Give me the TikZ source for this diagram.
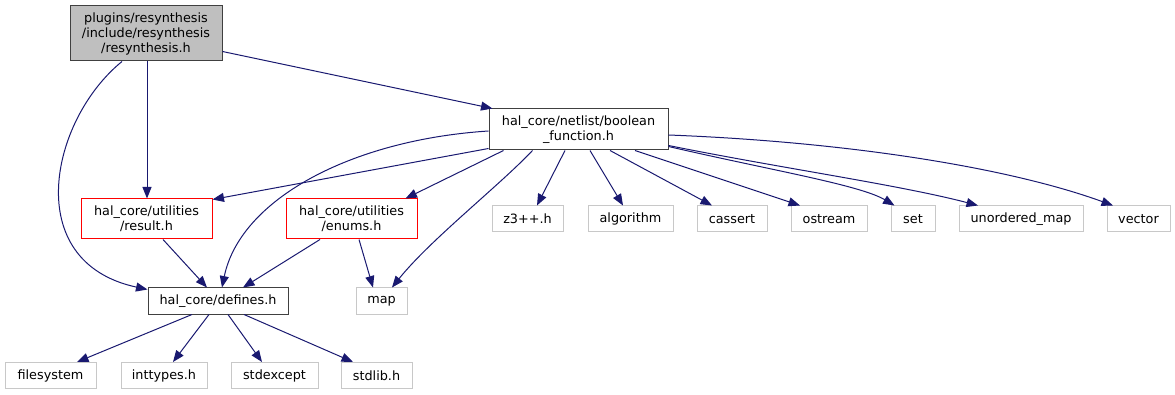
\documentclass[tikz,border=0pt]{standalone}
\usepackage{fontspec}
\setmainfont{DejaVu Sans}
\usetikzlibrary{arrows.meta}
\definecolor{edgeblue}{RGB}{25,25,112}
\definecolor{rootgray}{RGB}{191,191,191}
\definecolor{leafgray}{RGB}{200,200,200}
\definecolor{incred}{RGB}{255,0,0}
\definecolor{boxline}{RGB}{64,64,64}

\tikzset{
  file/.style={draw=boxline, line width=1pt, inner sep=0pt, align=center,
               font=\fontsize{12.8}{15}\selectfont},
  rootfile/.style={file, fill=rootgray},
  redfile/.style={file, draw=incred},
  leaf/.style={file, draw=leafgray, minimum height=26pt},
  inc/.style={draw=edgeblue, line width=1pt, -{Triangle[length=11.5pt,width=9pt]}}
}

\begin{document}
\begin{tikzpicture}[x=1pt, y=-1pt]
  \useasboundingbox (0,0) rectangle (1175,395);

  % files
  \node[rootfile, minimum width=152pt, minimum height=55pt] (resyn) at (146,33.5)
    {plugins/resynthesis\\/include/resynthesis\\/resynthesis.h};
  \node[file, minimum width=179pt, minimum height=41pt] (boolfn) at (578.5,129.5)
    {hal\_core/netlist/boolean\\\_function.h};
  \node[redfile, minimum width=131pt, minimum height=40pt] (result) at (146.5,219)
    {hal\_core/utilities\\/result.h};
  \node[redfile, minimum width=131pt, minimum height=40pt] (enums) at (351.5,219)
    {hal\_core/utilities\\/enums.h};
  \node[file, minimum width=140pt, minimum height=26pt] (defines) at (218,301)
    {hal\_core/defines.h};

  % system headers
  \node[leaf, minimum width=51pt] (map) at (381.5,301) {map};
  \node[leaf, minimum width=71pt] (zthree) at (527.5,219) {z3++.h};
  \node[leaf, minimum width=85pt] (algo) at (630.5,219) {algorithm};
  \node[leaf, minimum width=70pt] (cassert) at (732,219) {cassert};
  \node[leaf, minimum width=76pt] (ostream) at (829,219) {ostream};
  \node[leaf, minimum width=44pt] (set) at (913,219) {set};
  \node[leaf, minimum width=124pt] (umap) at (1021,219) {unordered\_map};
  \node[leaf, minimum width=63pt] (vector) at (1138.5,219) {vector};
  \node[leaf, minimum width=91pt] (fsys) at (50.5,375.5) {filesystem};
  \node[leaf, minimum width=86pt] (inttypes) at (164,375.5) {inttypes.h};
  \node[leaf, minimum width=87pt] (stdexcept) at (274.5,375.5) {stdexcept};
  \node[leaf, minimum width=71pt] (stdlib) at (376.5,375.5) {stdlib.h};

  % includes of resynthesis.h
  \draw[inc] ([yshift=10pt]resyn.south east) -- ([xshift=4pt]boolfn.north west);
  \draw[inc] ([xshift=1pt]resyn.south) -- ([xshift=0.5pt]result.north);
  \draw[inc] ([xshift=-24pt]resyn.south) .. controls (50,120) and (20,262) .. ([yshift=-2pt]defines.north west);

  % includes of boolean_function.h
  \draw[inc] ([yshift=2pt]boolfn.south west) -- ([yshift=-1pt]result.north east);
  \draw[inc] ([yshift=-1.5pt]boolfn.west) .. controls (350,140) and (240,200) .. ([xshift=4pt]defines.north);
  \draw[inc] ([xshift=-75pt]boolfn.south) -- ([xshift=54pt]enums.north);
  \draw[inc] ([xshift=-46pt]boolfn.south) .. controls (500,185) and (430,240) .. ([xshift=10.5pt]map.north);
  \draw[inc] ([xshift=-13.5pt]boolfn.south) -- ([xshift=9.5pt]zthree.north);
  \draw[inc] ([xshift=11.5pt]boolfn.south) -- ([xshift=-7.5pt]algo.north);
  \draw[inc] ([xshift=31.5pt]boolfn.south) -- ([xshift=-20pt]cassert.north);
  \draw[inc] ([xshift=56.5pt]boolfn.south) -- ([xshift=-29pt]ostream.north);
  \draw[inc] ([yshift=4pt]boolfn.south east) .. controls (770,170) and (860,185) .. ([xshift=4pt]set.north west);
  \draw[inc] ([yshift=5pt]boolfn.south east) .. controls (780,168) and (900,185) .. ([xshift=-43pt]umap.north);
  \draw[inc] ([yshift=-5.5pt]boolfn.east) .. controls (850,142) and (1010,168) .. ([xshift=-25.5pt]vector.north);

  % includes of result.h and enums.h
  \draw[inc] ([xshift=16.5pt]result.south) -- ([xshift=-11pt]defines.north);
  \draw[inc] ([xshift=-31.5pt]enums.south) -- ([xshift=25pt]defines.north);
  \draw[inc] ([xshift=7.5pt]enums.south) -- ([xshift=-8.5pt]map.north);

  % includes of defines.h
  \draw[inc] ([xshift=-26pt]defines.south) -- ([xshift=26.5pt]fsys.north);
  \draw[inc] ([xshift=-9pt]defines.south) -- ([xshift=9pt]inttypes.north);
  \draw[inc] ([xshift=10pt]defines.south) -- ([xshift=-12.5pt]stdexcept.north);
  \draw[inc] ([xshift=26pt]defines.south) -- ([xshift=-23.5pt]stdlib.north);
\end{tikzpicture}
\end{document}
